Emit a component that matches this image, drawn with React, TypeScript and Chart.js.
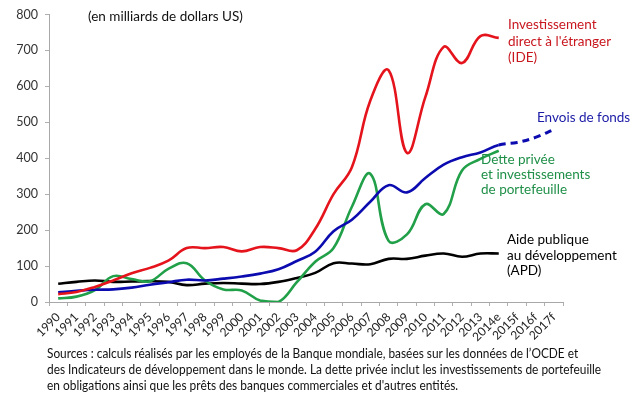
import React, { useEffect, useLayoutEffect, useRef } from "react";
import { Chart, registerables } from "chart.js";

Chart.register(...registerables);

const categories = [
  "1990", "1991", "1992", "1993", "1994", "1995", "1996", "1997", "1998", "1999",
  "2000", "2001", "2002", "2003", "2004", "2005", "2006", "2007", "2008", "2009",
  "2010", "2011", "2012", "2013", "2014e", "2015f", "2016f", "2017f",
];

const ideValues = [22, 28, 42, 60, 80, 95, 115, 150, 150, 153, 141, 153, 150, 144, 203, 300, 375, 560, 645, 415, 570, 710, 665, 740, 735];
const remittanceValues = [27, 31, 34, 35, 40, 48, 55, 62, 60, 65, 71, 79, 91, 114, 140, 197, 229, 279, 325, 305, 345, 382, 403, 416, 437, 444, 458, 480];
const privateDebtValues = [10, 15, 33, 72, 64, 58, 92, 108, 60, 35, 32, 4, 0, 55, 112, 150, 265, 357, 170, 188, 272, 245, 366, 398, 421];
const odaValues = [51, 56, 60, 56, 57, 58, 56, 47, 51, 53, 51, 50, 56, 67, 81, 108, 107, 105, 120, 120, 129, 135, 126, 135, 135];

const yTicks = [0, 100, 200, 300, 400, 500, 600, 700, 800];

const unitText = "(en milliards de dollars US)";
const ideLabel = ["Investissement", "direct à l'étranger", "(IDE)"];
const remitLabel = ["Envois de fonds"];
const debtLabel = ["Dette privée", "et investissements", "de portefeuille"];
const odaLabel = ["Aide publique", "au développement", "(APD)"];
const footerLines = [
  "Sources : calculs réalisés par les employés de la Banque mondiale, basées sur les données de l’OCDE et",
  "des Indicateurs de développement dans le monde. La dette privée inclut les investissements de portefeuille",
  "en obligations ainsi que les prêts des banques commerciales et d'autres entités.",
];

const FONT = "Lato, 'Open Sans', sans-serif";

function FitLine({ text, left, top, width }: { text: string; left: number; top: number; width: number }) {
  const ref = useRef<HTMLSpanElement>(null);
  useLayoutEffect(() => {
    const el = ref.current;
    if (!el) return;
    el.style.transform = "none";
    const w = el.offsetWidth;
    if (w > 0) el.style.transform = `scaleX(${width / w})`;
  }, [text, width]);
  return (
    <span
      ref={ref}
      style={{
        position: "absolute",
        left,
        top,
        whiteSpace: "nowrap",
        fontFamily: FONT,
        fontSize: 12.5,
        lineHeight: "14px",
        color: "#111",
        transformOrigin: "left center",
        display: "inline-block",
      }}
    >
      {text}
    </span>
  );
}

function Block({ lines, left, top, color, lh }: { lines: string[]; left: number; top: number; color: string; lh: number }) {
  return (
    <div
      style={{
        position: "absolute",
        left,
        top,
        color,
        fontFamily: FONT,
        fontSize: 13.5,
        lineHeight: `${lh}px`,
        whiteSpace: "nowrap",
      }}
    >
      {lines.map((l, i) => (
        <div key={i}>{l}</div>
      ))}
    </div>
  );
}

export default function App() {
  const canvasRef = useRef<HTMLCanvasElement>(null);

  useEffect(() => {
    const canvas = canvasRef.current;
    if (!canvas) return;
    const chart = new Chart(canvas, {
      type: "line",
      data: {
        labels: categories,
        datasets: [
          {
            label: "IDE",
            data: ideValues,
            borderColor: "#e5141c",
            borderWidth: 2.6,
            pointRadius: 0,
            tension: 0.4,
            fill: false,
          },
          {
            label: "Envois de fonds",
            data: remittanceValues,
            borderColor: "#0b0bb0",
            borderWidth: 2.6,
            pointRadius: 0,
            tension: 0.4,
            fill: false,
            segment: {
              borderDash: (ctx: any) => (ctx.p0DataIndex >= 24 ? [7, 5] : undefined),
              borderWidth: (ctx: any) => (ctx.p0DataIndex >= 24 ? 3 : 2.6),
            },
          },
          {
            label: "Dette privée",
            data: privateDebtValues,
            borderColor: "#21a049",
            borderWidth: 2.6,
            pointRadius: 0,
            tension: 0.4,
            fill: false,
          },
          {
            label: "APD",
            data: odaValues,
            borderColor: "#000000",
            borderWidth: 2.6,
            pointRadius: 0,
            tension: 0.4,
            fill: false,
          },
        ],
      },
      options: {
        responsive: false,
        animation: false,
        events: [],
        layout: { padding: { left: 0, top: 10, right: 77, bottom: 0 } },
        plugins: { legend: { display: false }, tooltip: { enabled: false }, title: { display: false } },
        scales: {
          x: {
            type: "category",
            offset: true,
            grid: {
              offset: true,
              drawOnChartArea: false,
              drawTicks: true,
              tickLength: 4,
              color: "#b0b0b0",
            },
            border: { display: true, color: "#a8a8a8", width: 1 },
            ticks: {
              autoSkip: false,
              minRotation: 45,
              maxRotation: 45,
              padding: 4,
              color: "#222",
              font: { family: FONT, size: 12 },
            },
            afterFit: (s: any) => {
              s.height = 396 - 302;
            },
          },
          y: {
            min: 0,
            max: 800,
            afterBuildTicks: (s: any) => {
              s.ticks = yTicks.map((v) => ({ value: v }));
            },
            grid: {
              drawOnChartArea: false,
              drawTicks: true,
              tickLength: 4,
              color: "#b0b0b0",
            },
            border: { display: true, color: "#a8a8a8", width: 1 },
            ticks: {
              padding: 7,
              color: "#333",
              font: { family: FONT, size: 12.5 },
            },
            afterFit: (s: any) => {
              s.width = 49;
            },
          },
        },
      },
    });
    return () => chart.destroy();
  }, []);

  return (
    <div style={{ position: "absolute", left: 0, top: 0, width: 640, height: 396, background: "#fff", overflow: "hidden" }}>
      <canvas ref={canvasRef} width={640} height={396} style={{ position: "absolute", left: 0, top: 0, width: 640, height: 396 }} />
      <div style={{ position: "absolute", left: 88, top: 8, fontFamily: FONT, fontSize: 13.5, color: "#111", whiteSpace: "nowrap" }}>{unitText}</div>
      <Block lines={ideLabel} left={508} top={16} color="#c8161e" lh={16.5} />
      <Block lines={remitLabel} left={537} top={109} color="#1a1aa6" lh={16} />
      <Block lines={debtLabel} left={481} top={152} color="#1f8f48" lh={15} />
      <Block lines={odaLabel} left={507} top={232} color="#000" lh={15.5} />
      <FitLine text={footerLines[0]} left={47} top={347} width={531} />
      <FitLine text={footerLines[1]} left={47} top={363} width={554} />
      <FitLine text={footerLines[2]} left={47} top={379} width={411} />
    </div>
  );
}
